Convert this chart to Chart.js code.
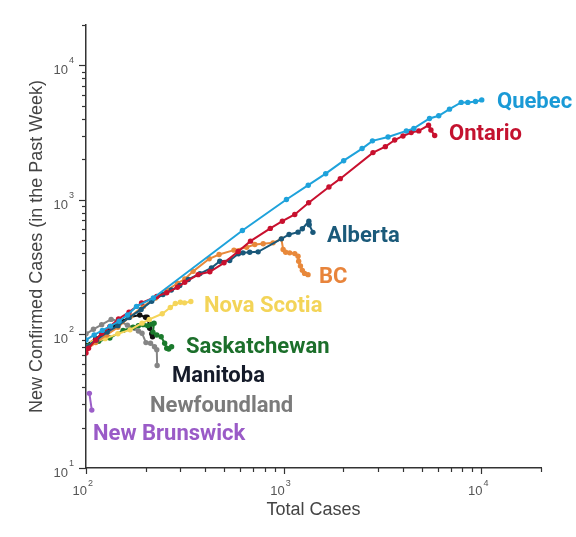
<!DOCTYPE html>
<html>
<head>
<meta charset="utf-8">
<script src="https://cdn.jsdelivr.net/npm/chart.js@4"></script>
<style>
  html, body { margin: 0; padding: 0; background: #ffffff; }
  #wrap { width: 576px; height: 537px; position: relative; }
</style>
</head>
<body>
<div id="wrap"><canvas id="c"></canvas></div>
<script>
// ---- Data: [total cases, new cases in past week] ----
const quebec = [[100,90],[110,98],[121,106],[133,114],[147,124],[162,138],[180,160],[219,185],[618,589],[1032,1002],[1330,1280],[1630,1560],[2010,1950],[2490,2400],[2810,2740],[3370,2930],[4170,3250],[4550,3390],[5460,4020],[6080,4210],[6890,4720],[7890,5300],[8530,5300],[9330,5380],[10030,5530]];
const ontario = [[100,72],[103,78],[112,90],[120,101],[132,113],[146,129],[165,145],[191,170],[228,190],[256,202],[290,222],[316,242],[369,276],[423,290],[499,338],[588,410],[679,490],[855,610],[984,690],[1137,775],[1337,948],[1693,1240],[1932,1432],[2827,2240],[3265,2480],[3640,2780],[4010,2980],[4410,3160],[4820,3250],[5400,3580],[5550,3300],[5800,3000]];
const alberta = [[100,80],[113,90],[128,103],[145,115],[165,132],[190,152],[215,175],[245,196],[270,212],[298,229],[329,254],[377,281],[431,310],[475,347],[533,351],[590,395],[622,401],[673,405],[742,408],[973,510],[1064,550],[1181,572],[1242,607],[1340,690],[1345,650],[1405,570]];
const bc = [[100,76],[112,86],[127,98],[145,112],[168,135],[195,160],[225,185],[258,212],[290,238],[316,256],[348,292],[420,362],[471,390],[560,420],[649,442],[714,463],[787,469],[883,476],[973,510],[993,425],[1023,405],[1072,401],[1137,396],[1181,378],[1190,347],[1215,320],[1242,297],[1275,282],[1327,276]];
const novaScotia = [[100,80],[108,86],[125,92],[145,100],[167,107],[192,120],[209,128],[243,141],[267,157],[283,168],[300,172],[315,170],[339,174]];
const saskatchewan = [[100,78],[103,82],[116,88],[132,93],[154,106],[173,112],[184,115],[195,117],[205,115],[215,118],[221,120],[218,103],[228,98],[240,95],[250,85],[256,78],[262,77],[271,80]];
const manitoba = [[100,82],[112,92],[125,102],[138,114],[152,124],[166,133],[187,138],[200,133],[204,133],[210,110],[215,100],[217,95]];
const newfoundland = [[100,100],[109,108],[120,117],[134,128],[148,124],[162,116],[176,110],[184,105],[192,101],[201,86],[212,85],[222,80],[228,76],[229,58]];
const newBrunswick = [[104,36],[107,27]];

const provinceNames = ['Quebec','Ontario','Alberta','BC','Nova Scotia','Saskatchewan','Manitoba','Newfoundland','New Brunswick'];
const provinceData = [quebec, ontario, alberta, bc, novaScotia, saskatchewan, manitoba, newfoundland, newBrunswick];

const xTickValues = [100,200,300,400,500,600,700,800,900,1000,2000,3000,4000,5000,6000,7000,8000,9000,10000,20000];
const yTickValues = [10,20,30,40,50,60,70,80,90,100,200,300,400,500,600,700,800,900,1000,2000,3000,4000,5000,6000,7000,8000,9000,10000,20000];
const xDecades = [100,1000,10000];
const yDecades = [10,100,1000,10000];

// ---- Styles ----
const lineColors = ['#1ea2db','#c8102e','#19587a','#e8883a','#f5d55a','#1a7a2c','#111111','#858585','#9b5ec8'];
const labelColors = ['#1a9ad6','#c4122f','#1b5a7a','#e8843b','#f3d458','#1c6f2b','#151b2a','#7b7b7b','#9a5bc7'];
const labelPixel = [[497,108],[449,140],[327,242],[319,283],[204,312],[186,353],[172,382],[150,412],[93,440]];

const datasets = provinceNames.map((name, i) => ({
  label: name,
  data: provinceData[i].map(p => ({x: p[0], y: p[1]})),
  showLine: true,
  borderColor: lineColors[i],
  backgroundColor: lineColors[i],
  pointBackgroundColor: lineColors[i],
  pointBorderWidth: 0,
  pointRadius: 2.7,
  borderWidth: 2,
  tension: 0
}));

const decoPlugin = {
  id: 'deco',
  afterDraw(chart) {
    const ctx = chart.ctx;
    const xs = chart.scales.x, ys = chart.scales.y;
    const ca = chart.chartArea;
    ctx.save();
    ctx.strokeStyle = '#333';
    ctx.lineWidth = 1.2;
    xTickValues.forEach(v => {
      const px = Math.round(xs.getPixelForValue(v)) + 0.5;
      const len = xDecades.includes(v) ? 6 : 4;
      ctx.beginPath(); ctx.moveTo(px, ca.bottom); ctx.lineTo(px, ca.bottom + len); ctx.stroke();
    });
    yTickValues.forEach(v => {
      const py = Math.round(ys.getPixelForValue(v)) + 0.5;
      const len = yDecades.includes(v) ? 7 : 4;
      ctx.beginPath(); ctx.moveTo(ca.left, py); ctx.lineTo(ca.left - len, py); ctx.stroke();
    });
    // tick labels 10^n
    ctx.fillStyle = '#555';
    ctx.textBaseline = 'alphabetic';
    xDecades.forEach(v => {
      const px = xs.getPixelForValue(v);
      const e = String(Math.round(Math.log10(v)));
      ctx.font = '13px "Liberation Sans", Arial, sans-serif';
      ctx.textAlign = 'right';
      ctx.fillText('10', px + 1, ca.bottom + 27);
      ctx.font = '9px "Liberation Sans", Arial, sans-serif';
      ctx.textAlign = 'left';
      ctx.fillText(e, px + 2, ca.bottom + 18);
    });
    yDecades.forEach(v => {
      const py = ys.getPixelForValue(v);
      const e = String(Math.round(Math.log10(v)));
      ctx.font = '13px "Liberation Sans", Arial, sans-serif';
      ctx.textAlign = 'right';
      ctx.fillText('10', ca.left - 18, py + 9);
      ctx.font = '9px "Liberation Sans", Arial, sans-serif';
      ctx.textAlign = 'left';
      ctx.fillText(e, ca.left - 17, py - 2);
    });
    // series labels
    ctx.font = 'bold 22px Roboto, "Noto Sans", sans-serif';
    ctx.textAlign = 'left';
    provinceNames.forEach((name, i) => {
      ctx.fillStyle = labelColors[i];
      ctx.fillText(name, labelPixel[i][0], labelPixel[i][1]);
    });
    ctx.restore();
  }
};

new Chart(document.getElementById('c'), {
  type: 'scatter',
  data: { datasets },
  options: {
    responsive: true,
    maintainAspectRatio: false,
    animation: false,
    devicePixelRatio: 1,
    layout: { padding: { top: 25, right: 35, left: 0, bottom: 0 } },
    plugins: { legend: { display: false }, tooltip: { enabled: false } },
    scales: {
      x: {
        type: 'logarithmic',
        min: 100, max: 20000,
        grid: { display: false },
        border: { display: true, color: '#333', width: 1.5 },
        ticks: { display: false },
        title: {
          display: true, text: 'Total Cases', color: '#444',
          font: { family: '"Liberation Sans", Arial, sans-serif', size: 18 },
          padding: { top: 0, bottom: 16 }
        },
        afterFit(scale) { scale.height = 69; }
      },
      y: {
        type: 'logarithmic',
        min: 10, max: 20000,
        grid: { display: false },
        border: { display: true, color: '#333', width: 1.5 },
        ticks: { display: false },
        title: {
          display: true, text: 'New Confirmed Cases (in the Past Week)', color: '#444',
          font: { family: '"Liberation Sans", Arial, sans-serif', size: 18 },
          padding: { top: 26, bottom: 0 }
        },
        afterFit(scale) { scale.width = 86; }
      }
    }
  },
  plugins: [decoPlugin]
});
</script>
</body>
</html>
